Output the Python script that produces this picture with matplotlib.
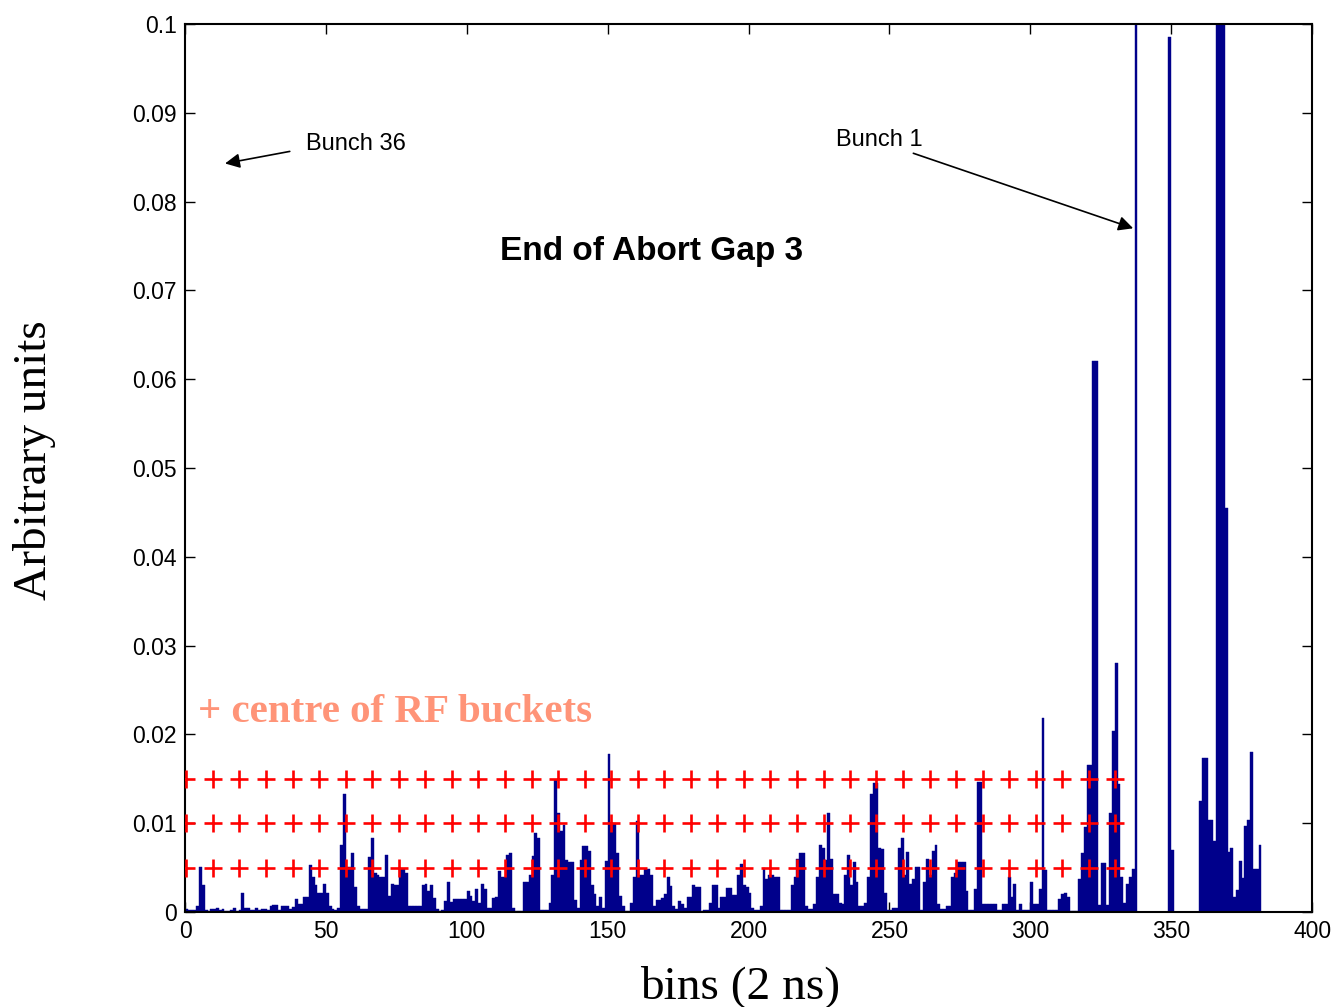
import numpy as np
import matplotlib
matplotlib.use("Agg")
import matplotlib.pyplot as plt

# signal per 2 ns bin (values above 0.1 are clipped by the axis)
signal = [
    0.0003, 0.0002, 0.0002, 0.0002, 0.0007, 0.0051, 0.0030, 0.0002, 0.0001, 0.0003,
    0.0003, 0.0004, 0.0002, 0.0003, 0.0001, 0.0001, 0.0002, 0.0004, 0.0001, 0.0002,
    0.0022, 0.0004, 0.0004, 0.0002, 0.0002, 0.0004, 0.0002, 0.0003, 0.0003, 0.0002,
    0.0007, 0.0008, 0.0008, 0.0002, 0.0007, 0.0007, 0.0007, 0.0003, 0.0006, 0.0015,
    0.0009, 0.0009, 0.0017, 0.0017, 0.0053, 0.0039, 0.0030, 0.0022, 0.0022, 0.0032,
    0.0022, 0.0007, 0.0003, 0.0002, 0.0004, 0.0075, 0.0133, 0.0051, 0.0051, 0.0066,
    0.0028, 0.0007, 0.0003, 0.0003, 0.0003, 0.0062, 0.0083, 0.0044, 0.0042, 0.0039,
    0.0039, 0.0064, 0.0018, 0.0032, 0.0031, 0.0031, 0.0049, 0.0049, 0.0044, 0.0007,
    0.0007, 0.0007, 0.0007, 0.0007, 0.0030, 0.0032, 0.0024, 0.0031, 0.0016, 0.0003,
    0.0001, 0.0002, 0.0012, 0.0034, 0.0011, 0.0015, 0.0015, 0.0015, 0.0015, 0.0015,
    0.0024, 0.0018, 0.0012, 0.0026, 0.0010, 0.0032, 0.0026, 0.0004, 0.0004, 0.0016,
    0.0017, 0.0046, 0.0040, 0.0040, 0.0064, 0.0066, 0.0004, 0.0001, 0.0001, 0.0001,
    0.0034, 0.0034, 0.0042, 0.0063, 0.0089, 0.0083, 0.0002, 0.0002, 0.0002, 0.0010,
    0.0042, 0.0149, 0.0112, 0.0091, 0.0098, 0.0059, 0.0056, 0.0056, 0.0014, 0.0005,
    0.0059, 0.0074, 0.0074, 0.0069, 0.0031, 0.0020, 0.0007, 0.0017, 0.0005, 0.0057,
    0.0178, 0.0100, 0.0100, 0.0066, 0.0018, 0.0007, 0.0001, 0.0001, 0.0010, 0.0040,
    0.0102, 0.0042, 0.0042, 0.0049, 0.0049, 0.0042, 0.0007, 0.0013, 0.0013, 0.0016,
    0.0020, 0.0040, 0.0029, 0.0007, 0.0003, 0.0012, 0.0009, 0.0004, 0.0017, 0.0017,
    0.0030, 0.0028, 0.0028, 0.0001, 0.0002, 0.0002, 0.0010, 0.0030, 0.0030, 0.0005,
    0.0017, 0.0017, 0.0027, 0.0027, 0.0019, 0.0019, 0.0042, 0.0054, 0.0030, 0.0028,
    0.0022, 0.0005, 0.0002, 0.0002, 0.0007, 0.0050, 0.0037, 0.0042, 0.0042, 0.0039,
    0.0039, 0.0002, 0.0002, 0.0002, 0.0002, 0.0031, 0.0040, 0.0060, 0.0066, 0.0066,
    0.0007, 0.0003, 0.0003, 0.0009, 0.0039, 0.0076, 0.0072, 0.0059, 0.0111, 0.0060,
    0.0020, 0.0020, 0.0010, 0.0009, 0.0042, 0.0064, 0.0030, 0.0056, 0.0034, 0.0007,
    0.0007, 0.0010, 0.0039, 0.0133, 0.0145, 0.0145, 0.0072, 0.0071, 0.0022, 0.0002,
    0.0002, 0.0004, 0.0004, 0.0072, 0.0083, 0.0042, 0.0068, 0.0032, 0.0037, 0.0051,
    0.0051, 0.0002, 0.0034, 0.0060, 0.0042, 0.0069, 0.0075, 0.0009, 0.0003, 0.0003,
    0.0007, 0.0007, 0.0040, 0.0044, 0.0056, 0.0056, 0.0056, 0.0024, 0.0002, 0.0002,
    0.0026, 0.0147, 0.0147, 0.0009, 0.0009, 0.0009, 0.0009, 0.0009, 0.0002, 0.0002,
    0.0009, 0.0009, 0.0039, 0.0017, 0.0032, 0.0002, 0.0009, 0.0002, 0.0002, 0.0002,
    0.0034, 0.0009, 0.0009, 0.0026, 0.0218, 0.0047, 0.0002, 0.0002, 0.0002, 0.0002,
    0.0015, 0.0020, 0.0022, 0.0017, 0.0001, 0.0001, 0.0001, 0.0037, 0.0067, 0.0096,
    0.0166, 0.0166, 0.0620, 0.0620, 0.0008, 0.0055, 0.0055, 0.0008, 0.0112, 0.0204,
    0.0280, 0.0144, 0.0040, 0.0010, 0.0032, 0.0040, 0.0048, 0.1500, 0.0, 0.0,
    0.0, 0.0, 0.0, 0.0, 0.0, 0.0, 0.0, 0.0, 0.0, 0.0985,
    0.0070, 0.0, 0.0, 0.0, 0.0, 0.0, 0.0, 0.0, 0.0, 0.0,
    0.0125, 0.0174, 0.0174, 0.0104, 0.0104, 0.0080, 0.1500, 0.1500, 0.1500, 0.0455,
    0.0068, 0.0072, 0.0017, 0.0025, 0.0057, 0.0038, 0.0097, 0.0104, 0.0180, 0.0048,
    0.0048, 0.0075,
]
bins = np.arange(len(signal))

# RF bucket centres (bins) and the marker levels
bucket_centres = [0.5, 9.9, 19.3, 28.8, 38.2, 47.6, 57.0, 66.4, 75.9, 85.3,
                  94.7, 104.1, 113.5, 123.0, 132.4, 141.8, 151.2, 160.6, 170.1, 179.5,
                  188.9, 198.3, 207.7, 217.2, 226.6, 236.0, 245.4, 254.8, 264.3, 273.7,
                  283.1, 292.5, 301.9, 311.4, 320.8, 330.2]
bucket_levels = [0.005, 0.010, 0.015]

x_ticks = [0, 50, 100, 150, 200, 250, 300, 350, 400]
y_ticks = [0, 0.01, 0.02, 0.03, 0.04, 0.05, 0.06, 0.07, 0.08, 0.09, 0.1]
y_ticklabels = ["0", "0.01", "0.02", "0.03", "0.04", "0.05", "0.06", "0.07", "0.08", "0.09", "0.1"]

sans = "Liberation Sans"
serif = "Liberation Serif"

fig = plt.figure(figsize=(13.36, 10.07), dpi=100)
ax = fig.add_axes([0.1385, 0.0943, 0.8436, 0.8818])

ax.bar(bins, signal, width=1.0, align="edge", color="#00008B",
       edgecolor="#00008B", linewidth=0.3, zorder=2)

for level in bucket_levels:
    ax.plot(bucket_centres, [level] * len(bucket_centres), linestyle="none",
            marker="+", markersize=13, markeredgewidth=1.9, color="red", zorder=3)

ax.set_xlim(0, 400)
ax.set_ylim(0, 0.1)
ax.set_xticks(x_ticks)
ax.set_yticks(y_ticks)
ax.set_yticklabels(y_ticklabels)
ax.tick_params(direction="in", length=7, width=1, top=True, right=True,
               labelsize=16.5, pad=6)
for lab in ax.get_xticklabels() + ax.get_yticklabels():
    lab.set_fontfamily(sans)
for sp in ax.spines.values():
    sp.set_linewidth(1.5)

ax.text(165.7, 0.0744, "End of Abort Gap 3", fontsize=24, fontweight="bold",
        family=sans, ha="center", va="center")
ax.text(4.6, 0.0225, "+ centre of RF buckets", fontsize=29.5, fontweight="bold",
        family=serif, color="#FF9478", ha="left", va="center")

ax.annotate("Bunch 36", xy=(14.2, 0.0843), xytext=(43, 0.0865),
            fontsize=17, family=sans, ha="left", va="center",
            arrowprops=dict(arrowstyle="-|>", color="black", lw=1.2,
                            mutation_scale=22, shrinkA=10, shrinkB=0,
                            relpos=(0.0, 0.3)))
ax.annotate("Bunch 1", xy=(336.5, 0.0770), xytext=(231, 0.0870),
            fontsize=17, family=sans, ha="left", va="center",
            arrowprops=dict(arrowstyle="-|>", color="black", lw=1.2,
                            mutation_scale=22, shrinkA=0, shrinkB=0,
                            relpos=(0.8, 0.0)))

fig.text(740 / 1336, 1 - 987 / 1007, "bins (2 ns)", fontsize=34, family=serif,
         ha="center", va="center")
fig.text(35 / 1336, 1 - 460 / 1007, "Arbitrary units", fontsize=34, family=serif,
         ha="center", va="center", rotation=90)

fig.savefig("out.png", dpi=100)
